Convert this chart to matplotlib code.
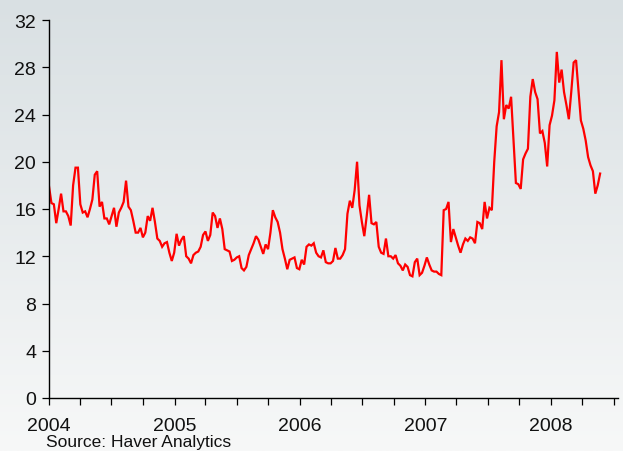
import matplotlib
matplotlib.use('Agg')
import matplotlib.pyplot as plt
import matplotlib.dates as mdates
from matplotlib.colors import LinearSegmentedColormap
import numpy as np
import pandas as pd

plt.rcParams['font.family'] = ['Liberation Sans', 'DejaVu Sans']

# Weekly values (Jan 2004 - May 2008)
values = [
    17.9, 16.5, 16.4, 14.8, 16.0, 17.3, 15.8, 15.8, 15.4, 14.6, 18.0, 19.5, 19.5,
    16.4, 15.7, 15.8, 15.3, 16.0, 16.8, 18.9, 19.2, 16.2, 16.6, 15.2, 15.2, 14.7,
    15.4, 16.1, 14.5, 15.7, 16.1, 16.6, 18.4,
    16.2,
    15.9, 15.0, 14.0, 14.0, 14.4, 13.6, 14.0, 15.4, 15.0, 16.1, 14.9, 13.5, 13.3,
    12.8, 13.1, 13.2, 12.3, 11.6, 12.3, 13.9, 12.9, 13.4, 13.7, 12.0, 11.8, 11.4,
    12.1, 12.3, 12.4, 12.8, 13.8, 14.1, 13.3, 13.8, 15.7, 15.4,
    14.4, 15.2, 14.3, 12.6, 12.5, 12.4, 11.6, 11.7, 11.9, 12.0, 11.0, 10.8, 11.1,
    12.1, 12.6, 13.1, 13.7, 13.4, 12.8, 12.2, 13.0, 12.6, 14.0, 15.9, 15.3, 14.9,
    14.0, 12.6, 11.8, 10.9, 11.7, 11.8, 11.9, 11.0, 10.9, 11.7, 11.3,
    12.8, 13.0, 12.9, 13.1, 12.3, 12.0, 11.9, 12.5, 11.5, 11.4, 11.4, 11.6, 12.7,
    11.8, 11.8, 12.1, 12.6, 15.6, 16.7, 16.1, 17.6, 20.0, 16.3, 14.9, 13.7, 15.4,
    17.2, 14.8, 14.7, 14.9, 12.8, 12.3, 12.2,
    13.5, 12.0, 12.0, 11.8, 12.1, 11.4, 11.2, 10.8, 11.3, 11.1, 10.4, 10.3, 11.5,
    11.8, 10.4, 10.6, 11.2, 11.9, 11.3, 10.8, 10.7, 10.7, 10.5, 10.4, 15.9, 16.0,
    16.6, 13.2, 14.3, 13.6, 12.9, 12.3, 13.0, 13.5, 13.3, 13.6, 13.5,
    13.1, 14.9, 14.8, 14.3, 16.6, 15.2, 16.1, 15.9, 20.0, 23.0, 24.2, 28.6, 23.6,
    24.8, 24.5, 25.5, 21.9, 18.2, 18.1, 17.7, 20.2, 20.7, 21.1, 25.5, 27.0,
    25.9, 25.3, 22.4, 22.6, 21.6, 19.6, 23.1, 23.9, 25.2, 29.3, 26.7, 27.8, 25.9,
    24.8, 23.6, 25.9, 28.4, 28.6, 26.0, 23.5, 22.8, 21.8, 20.4, 19.7, 19.2, 17.3,
    18.0, 19.0,
]
start_date = '2004-01-02'
dates = pd.date_range(start_date, periods=len(values), freq='W-FRI')

y_ticks = [0, 4, 8, 12, 16, 20, 24, 28, 32]
source_text = 'Source: Haver Analytics'

fig = plt.figure(figsize=(6.23, 4.52), dpi=100)

# gradient background
bg = fig.add_axes([0, 0, 1, 1], zorder=0)
grad = np.linspace(0, 1, 256).reshape(-1, 1)
cmap = LinearSegmentedColormap.from_list('bg', ['#f7f8f8', '#d9e0e3'])
bg.imshow(grad, aspect='auto', cmap=cmap, origin='lower', extent=[0, 1, 0, 1])
bg.axis('off')

ax = fig.add_axes([48.7 / 623, 1 - 399 / 452, (618 - 48.7) / 623, (399 - 21) / 452], zorder=1)
ax.patch.set_alpha(0)

ax.plot(dates, values, color='#ff0000', lw=1.6, solid_joinstyle='miter')

ax.set_ylim(0, 32)
ax.set_yticks(y_ticks)
ax.set_xlim(pd.Timestamp('2004-01-01'), pd.Timestamp('2008-07-14'))
ax.xaxis.set_major_locator(mdates.YearLocator())
ax.xaxis.set_major_formatter(mdates.DateFormatter('%Y'))
ax.xaxis.set_minor_locator(mdates.MonthLocator(bymonth=[4, 7, 10]))

for s in ['top', 'right']:
    ax.spines[s].set_visible(False)
for s in ['left', 'bottom']:
    ax.spines[s].set_linewidth(1.0)
    ax.spines[s].set_color('black')

ax.tick_params(axis='both', which='both', direction='out', length=5, width=0.9,
               color='black')
ax.tick_params(axis='y', labelsize=14, pad=4, labelcolor='#111111')
ax.tick_params(axis='x', which='major', labelsize=14, pad=9, labelcolor='#111111')

fig.text(46 / 623, 1 - 443 / 452, source_text, fontsize=12.5, color='#111111',
         va='center', ha='left')

fig.savefig('out.png', dpi=100)
